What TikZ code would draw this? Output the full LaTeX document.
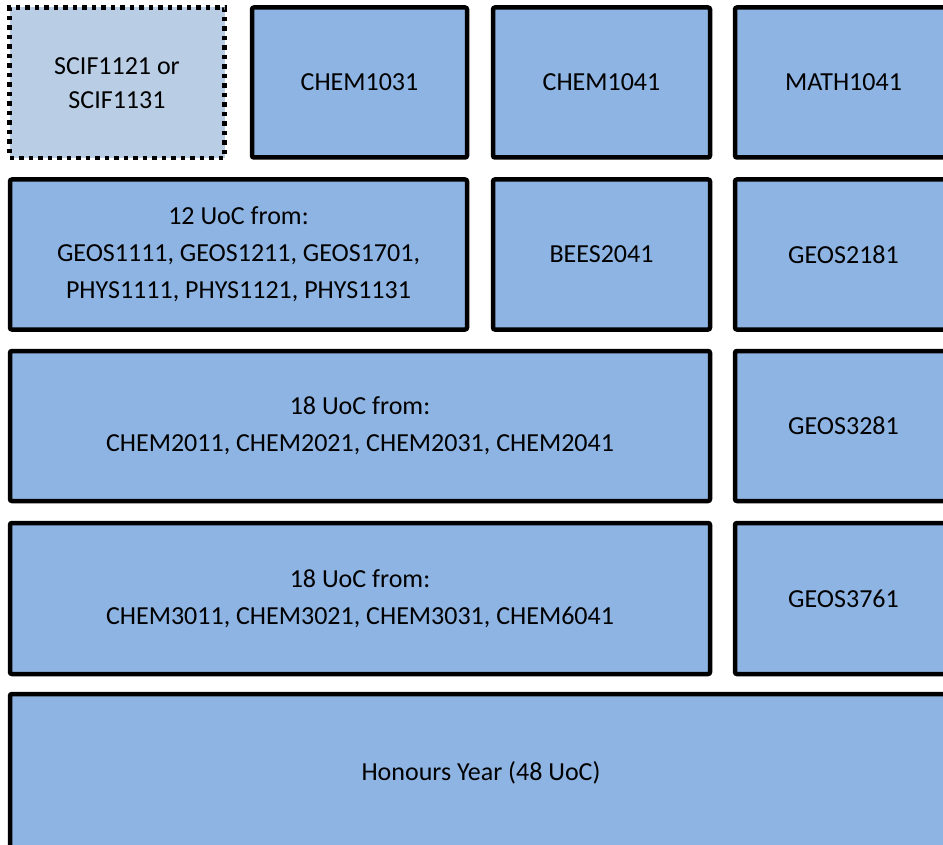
\documentclass[tikz,border=0pt]{standalone}
\usepackage{fontspec}
\setmainfont{Carlito}
\usetikzlibrary{positioning}
\definecolor{colorbox}  {RGB}{142,180,227}
\definecolor{colorlight}{RGB}{185,205,229}
\definecolor{colortext} {RGB}{0  ,0  ,0  }

\begin{document}
\begin{tikzpicture}[
    x=1pt, y=-1pt,
    base/.style={draw=black,line width=4.5pt,rounded corners=2pt,fill=colorbox,text=colortext,
                 font={\fontsize{26}{37}\selectfont},inner sep=0pt,align=center,rectangle},
    opt/.style={base,fill=colorlight,rounded corners=0pt,dash pattern=on 4.5pt off 5pt,
                font={\fontsize{26}{34}\selectfont}},
]
    \clip (0,0) rectangle (943,845);

    % first year
    \node[opt, minimum width=215pt,minimum height=150.5pt] at (117  ,82.75) (scif)     {SCIF1121 or\\SCIF1131};
    \node[base,minimum width=215pt,minimum height=150pt]   at (359.5,82.5)  (chemA)    {CHEM1031};
    \node[base,minimum width=217pt,minimum height=150pt]   at (601.5,82.5)  (chemB)    {CHEM1041};
    \node[base,minimum width=217pt,minimum height=150pt]   at (843.5,82.5)  (math)     {MATH1041};

    \node[base,minimum width=457pt,minimum height=150pt]   at (238.5,254.5) (firstUoc) {12 UoC from:\\GEOS1111, GEOS1211, GEOS1701,\\PHYS1111, PHYS1121, PHYS1131};
    \node[base,minimum width=217pt,minimum height=150pt]   at (601.5,254.5) (bees)     {BEES2041};
    \node[base,minimum width=217pt,minimum height=150pt]   at (843.5,254.5) (geosA)    {GEOS2181};

    % later years
    \node[base,minimum width=700pt,minimum height=150pt]   at (360  ,426)   (secondUoc){18 UoC from:\\CHEM2011, CHEM2021, CHEM2031, CHEM2041};
    \node[base,minimum width=217pt,minimum height=150pt]   at (843.5,426)   (geosB)    {GEOS3281};

    \node[base,minimum width=700pt,minimum height=151pt]   at (360  ,598.5) (thirdUoc) {18 UoC from:\\CHEM3011, CHEM3021, CHEM3031, CHEM6041};
    \node[base,minimum width=217pt,minimum height=151pt]   at (843.5,598.5) (geosC)    {GEOS3761};

    \node[base,minimum width=942pt,minimum height=157pt]   at (481  ,772.5) (honours)  {Honours Year (48 UoC)};

\end{tikzpicture}
\end{document}
